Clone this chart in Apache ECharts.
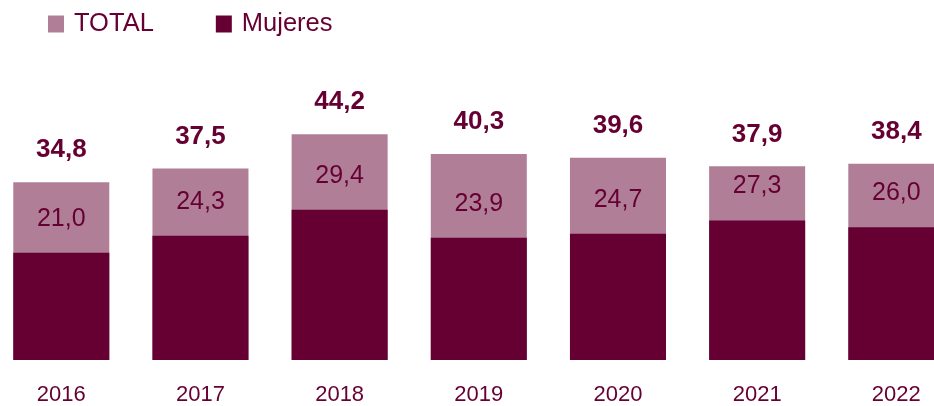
<!DOCTYPE html>
<html>
<head>
<meta charset="utf-8">
<script src="https://cdn.jsdelivr.net/npm/echarts@6/dist/echarts.min.js"></script>
<style>
  html, body { margin: 0; padding: 0; background: #fff; }
  #chart { width: 934px; height: 406px; }
</style>
</head>
<body>
<div id="chart"></div>
<script>
var years = ['2016', '2017', '2018', '2019', '2020', '2021', '2022'];
var total = [34.8, 37.5, 44.2, 40.3, 39.6, 37.9, 38.4];
var mujeres = [21.0, 24.3, 29.4, 23.9, 24.7, 27.3, 26.0];

var dark = '#660033';
var light = '#B07F97';

function fmt(p) {
    return p.value.toFixed(1).replace('.', ',');
}

var chart = echarts.init(document.getElementById('chart'));
chart.setOption({
    animation: false,
    textStyle: { fontFamily: 'Liberation Sans, Arial, sans-serif' },
    legend: {
        left: 48,
        top: 11,
        padding: 0,
        icon: 'rect',
        itemWidth: 16,
        itemHeight: 17,
        itemGap: 62,
        textStyle: { fontSize: 25.5, color: dark, padding: [0, 0, 0, 5] },
        data: ['TOTAL', 'Mujeres']
    },
    grid: {
        left: -8.3,
        right: -31.9,
        top: 53.4,
        bottom: 46,
        containLabel: false,
        outerBoundsMode: 'none'
    },
    xAxis: {
        type: 'category',
        data: years,
        axisLine: { show: false },
        axisTick: { show: false },
        axisLabel: { fontSize: 22, color: dark, margin: 24 }
    },
    yAxis: {
        type: 'value',
        min: 0,
        max: 60,
        show: false,
        splitLine: { show: false }
    },
    series: [{
        name: 'TOTAL',
        type: 'bar',
        data: total,
        barWidth: '69%',
        barGap: '-100%',
        itemStyle: { color: light },
        label: {
            show: true,
            position: 'top',
            distance: 19,
            fontSize: 26,
            fontWeight: 'bold',
            lineHeight: 26,
            color: dark,
            formatter: fmt
        }
    }, {
        name: 'Mujeres',
        type: 'bar',
        data: mujeres,
        barWidth: '69%',
        itemStyle: { color: dark },
        label: {
            show: true,
            position: 'top',
            distance: 21,
            fontSize: 25,
            lineHeight: 26,
            color: dark,
            formatter: fmt
        }
    }]
});
</script>
</body>
</html>
